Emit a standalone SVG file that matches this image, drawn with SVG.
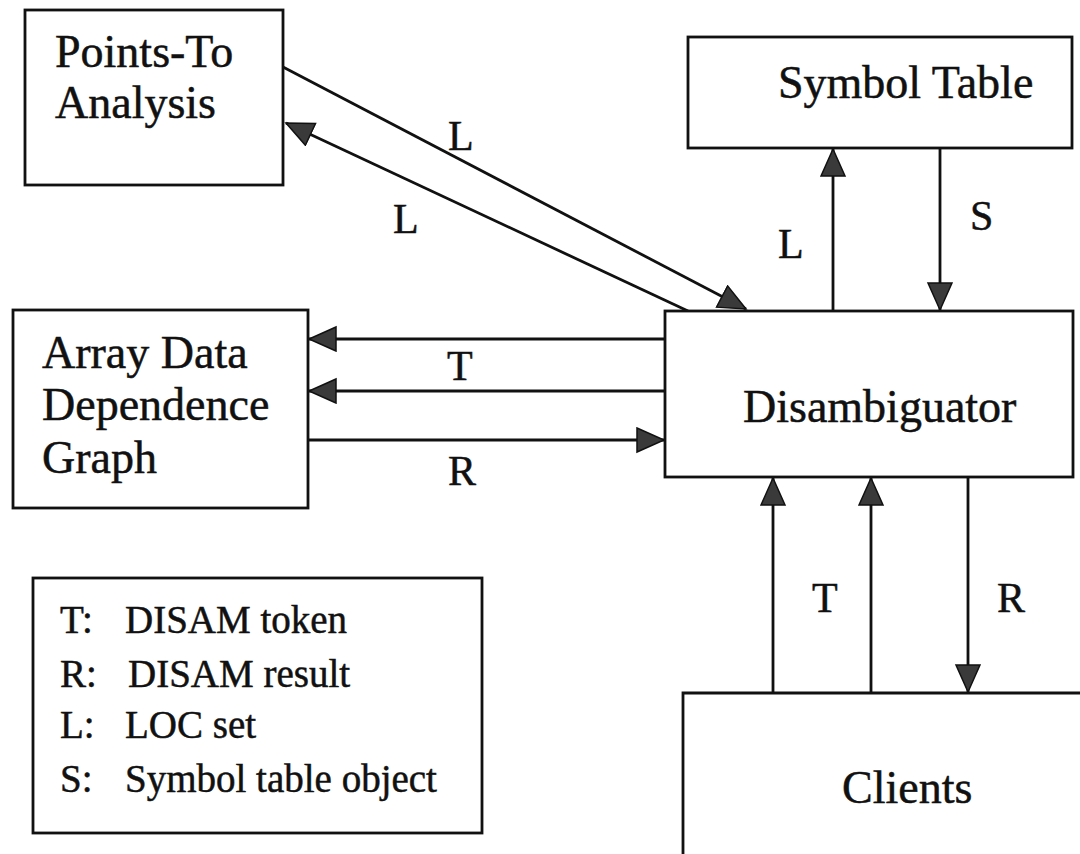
<svg xmlns="http://www.w3.org/2000/svg" width="1080" height="854" viewBox="0 0 1080 854">
  <style>
    .box { fill: #ffffff; stroke: #111111; stroke-width: 2.8; }
    .edge { fill: none; stroke: #111111; stroke-width: 2.8; }
    .node-text { font-family: "Liberation Serif", "Times New Roman", serif; font-size: 46px; fill: #111111; stroke: #111111; stroke-width: 0.5; }
    .label { font-family: "Liberation Serif", "Times New Roman", serif; font-size: 42px; fill: #111111; stroke: #111111; stroke-width: 0.5; }
    .legend-text { font-family: "Liberation Serif", "Times New Roman", serif; font-size: 39px; fill: #111111; stroke: #111111; stroke-width: 0.5; }
  </style>
  <defs>
    <marker id="arrow" markerUnits="userSpaceOnUse" markerWidth="30" markerHeight="28" refX="28" refY="13" orient="auto">
      <path d="M1,1 L28,13 L1,25 Z" fill="#3a3a3a" stroke="#111111" stroke-width="1.5"/>
    </marker>
  </defs>
  <rect x="0" y="0" width="1080" height="854" fill="#ffffff"/>

  <g id="connectors">
    <!-- Points-To <-> Disambiguator -->
    <line class="edge" x1="283" y1="67" x2="746" y2="309" marker-end="url(#arrow)"/>
    <line class="edge" x1="688" y1="311" x2="286" y2="123" marker-end="url(#arrow)"/>
    <!-- Disambiguator <-> Symbol Table -->
    <line class="edge" x1="833" y1="311" x2="833" y2="149" marker-end="url(#arrow)"/>
    <line class="edge" x1="940" y1="148" x2="940" y2="310" marker-end="url(#arrow)"/>
    <!-- Disambiguator <-> Array Data Dependence Graph -->
    <line class="edge" x1="665" y1="339" x2="309" y2="339" marker-end="url(#arrow)"/>
    <line class="edge" x1="665" y1="391" x2="309" y2="391" marker-end="url(#arrow)"/>
    <line class="edge" x1="308" y1="440" x2="664" y2="440" marker-end="url(#arrow)"/>
    <!-- Clients <-> Disambiguator -->
    <line class="edge" x1="773" y1="693" x2="773" y2="478" marker-end="url(#arrow)"/>
    <line class="edge" x1="871" y1="693" x2="871" y2="478" marker-end="url(#arrow)"/>
    <line class="edge" x1="968" y1="477" x2="968" y2="692" marker-end="url(#arrow)"/>
    <!-- labels -->
    <text class="label" x="448" y="150">L</text>
    <text class="label" x="393" y="233">L</text>
    <text class="label" x="778" y="258">L</text>
    <text class="label" x="970" y="230">S</text>
    <text class="label" x="447" y="380">T</text>
    <text class="label" x="448" y="485">R</text>
    <text class="label" x="812" y="612">T</text>
    <text class="label" x="997" y="612">R</text>
  </g>

  <g id="points-to">
    <rect class="box" x="25" y="10" width="258" height="175"/>
    <text class="node-text" x="55" y="67">Points-To</text>
    <text class="node-text" x="55" y="118">Analysis</text>
  </g>

  <g id="symbol-table">
    <rect class="box" x="688" y="37" width="384" height="111"/>
    <text class="node-text" x="778" y="98">Symbol Table</text>
  </g>

  <g id="array-ddg">
    <rect class="box" x="13" y="310" width="295" height="198"/>
    <text class="node-text" x="42" y="368">Array Data</text>
    <text class="node-text" x="42" y="420">Dependence</text>
    <text class="node-text" x="42" y="473">Graph</text>
  </g>

  <g id="disambiguator">
    <rect class="box" x="665" y="311" width="408" height="166"/>
    <text class="node-text" x="743" y="422">Disambiguator</text>
  </g>

  <g id="clients">
    <path class="box" d="M683,854 V693 H1080" fill="none"/>
    <text class="node-text" x="842" y="803">Clients</text>
  </g>

  <g id="legend">
    <rect class="box" x="33" y="578" width="449" height="255"/>
    <text class="legend-text" x="60" y="633">T:</text>
    <text class="legend-text" x="125" y="633">DISAM token</text>
    <text class="legend-text" x="60" y="687">R:</text>
    <text class="legend-text" x="128" y="687">DISAM result</text>
    <text class="legend-text" x="60" y="738">L:</text>
    <text class="legend-text" x="125" y="738">LOC set</text>
    <text class="legend-text" x="60" y="792">S:</text>
    <text class="legend-text" x="125" y="792">Symbol table object</text>
  </g>
</svg>
